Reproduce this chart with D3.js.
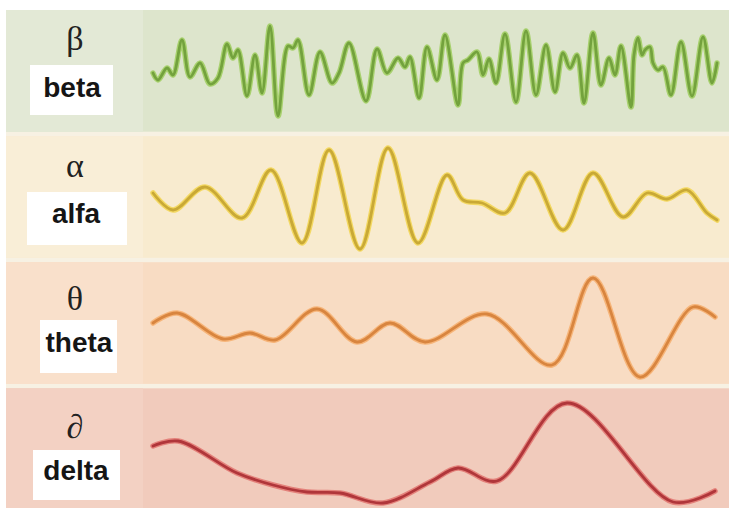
<!DOCTYPE html>
<html><head><meta charset="utf-8">
<script src="https://cdn.jsdelivr.net/npm/d3@7"></script>
<style>html,body{margin:0;padding:0;background:#fff;}svg{display:block;}</style>
</head><body>
<svg id="chart" width="735" height="508"></svg>
<script>
// ---- data ----
const categories = ["beta", "alfa", "theta", "delta"];
const symbols = ["\u03B2", "\u03B1", "\u03B8", "\u2202"];
// [time (ms), amplitude (µV)]
const betaWave = [[0,-4],[5,-11],[14,1],[20,-6],[29,29],[37,-8],[47,6],[57,-15],[65,-9],[74,25],[80,11],[85,19],[94,-27],[102,14],[109,-24],[117,43],[125,-47],[135,23],[140,21],[145,29],[156,-26],[167,17],[179,-14],[186,-4],[196,26],[213,-32],[224,20],[234,-4],[245,11],[252,2],[257,12],[266,-29],[274,22],[284,-11],[292,34],[305,-36],[310,6],[315,9],[324,17],[330,-6],[336,10],[343,-14],[352,35],[363,-33],[373,38],[383,-26],[393,24],[402,-23],[410,16],[417,1],[424,14],[431,-34],[440,36],[448,-16],[456,11],[462,-6],[468,23],[478,-38],[481,14],[485,31],[489,14],[492,19],[497,22],[500,6],[505,-1],[510,2],[518,-26],[528,27],[539,-27],[550,32],[559,-14],[564,6]];
const alfaWave = [[0,3],[20,-14],[52,9],[89,-22],[118,26],[149,-47],[176,46],[207,-53],[235,48],[265,-47],[294,21],[310,-4],[329,-7],[352,-17],[377,23],[410,-34],[440,23],[470,-21],[494,3],[514,-3],[534,6],[554,-17],[564,-24]];
const thetaWave = [[0,0],[24,10],[70,-16],[97,-10],[122,-17],[164,14],[204,-19],[237,0],[272,-19],[334,9],[399,-42],[440,45],[487,-54],[540,16],[562,6]];
const deltaWave = [[0,4],[25,9],[84,-23],[120,-35],[154,-42],[187,-43],[230,-53],[277,-32],[305,-18],[344,-31],[414,47],[520,-52],[562,-41]];
const waves = [betaWave, alfaWave, thetaWave, deltaWave];

// ---- style ----
const bandFill = ["#dde5cc", "#f8ebcf", "#f8dcc3", "#f1cbbc"];
const labelFill = ["#e3e9d6", "#f9eed7", "#f9e0cb", "#f3d1c3"];
const glowColor = ["#95c94f", "#f2d23e", "#f6a862", "#df6a66"];
const lineColor = ["#73a23d", "#c9a936", "#d8853f", "#b0363a"];
const labelCx = [72, 76, 79, 76];
const boxes = [[30,65,83,50],[27,192,100,53],[40,320,77,53],[33,450,87,50]];
const symBase = [50, 177, 310, 438];
const wordBase = [97, 223, 352, 480];

const svg = d3.select("#chart");
const band = d3.scaleBand().domain(categories).range([10, 510]).paddingInner(0.035);
const centers = [69, 196, 323, 450];
const x = d3.scaleLinear().domain([0, 565]).range([153, 718]);

// separator background
svg.append("rect").attr("x", 6).attr("y", 10).attr("width", 723).attr("height", 498).attr("fill", "#f7f1e3");

categories.forEach((c, i) => {
  const top = band(c), h = band.bandwidth();
  const g = svg.append("g");
  g.append("rect").attr("x", 6).attr("y", top).attr("width", 723).attr("height", h).attr("fill", bandFill[i]);
  g.append("rect").attr("x", 6).attr("y", top).attr("width", 137).attr("height", h).attr("fill", labelFill[i]);

  const y = d3.scaleLinear().domain([-60, 60]).range([centers[i] + 60, centers[i] - 60]);
  const line = d3.line().x(d => x(d[0])).y(d => y(d[1])).curve(d3.curveCatmullRom.alpha(0.5));
  g.append("path").datum(waves[i]).attr("d", line).attr("fill", "none")
    .attr("stroke", glowColor[i]).attr("stroke-width", 5.5).attr("stroke-opacity", 0.75)
    .attr("stroke-linejoin", "round").attr("stroke-linecap", "round");
  g.append("path").datum(waves[i]).attr("d", line).attr("fill", "none")
    .attr("stroke", lineColor[i]).attr("stroke-width", 2.8)
    .attr("stroke-linejoin", "round").attr("stroke-linecap", "round");

  g.append("text").attr("x", 75).attr("y", symBase[i]).attr("text-anchor", "middle")
    .attr("font-family", "'Liberation Serif','DejaVu Serif',serif").attr("font-size", 34)
    .attr("fill", "#222").text(symbols[i]);
  const b = boxes[i];
  g.append("rect").attr("x", b[0]).attr("y", b[1]).attr("width", b[2]).attr("height", b[3]).attr("fill", "#fff");
  g.append("text").attr("x", labelCx[i]).attr("y", wordBase[i]).attr("text-anchor", "middle")
    .attr("font-family", "'Liberation Sans',Arial,sans-serif").attr("font-weight", "bold")
    .attr("font-size", 28).attr("fill", "#151515").text(c);
});
</script>
</body></html>
